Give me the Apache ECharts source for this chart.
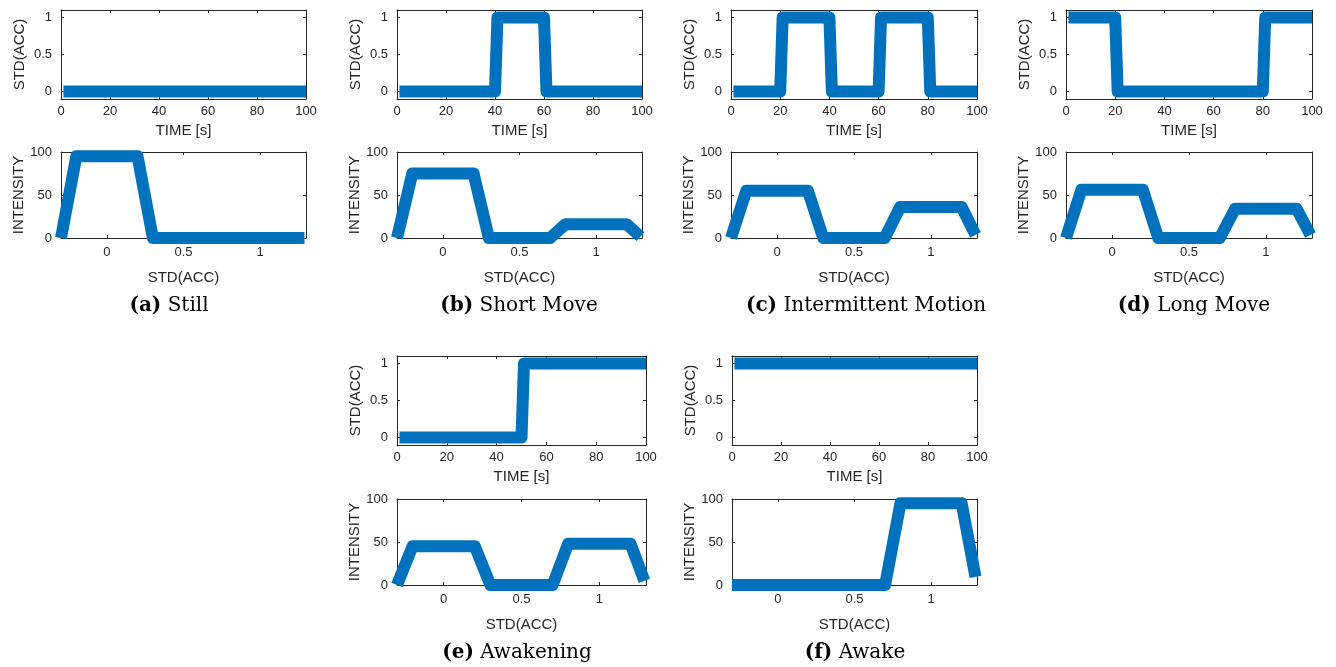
<!DOCTYPE html>
<html>
<head>
<meta charset="utf-8">
<script src="https://cdn.jsdelivr.net/npm/echarts@6/dist/echarts.min.js"></script>
<style>
  html, body { margin: 0; padding: 0; background: #fff; }
  #chart { width: 1336px; height: 667px; }
</style>
</head>
<body>
<div id="chart"></div>
<script>
// top plots: STD(ACC) over time, [time s, value] vertices
const stdStill = [[1, 0], [100, 0]]
const stdShort = [[1, 0], [40, 0], [41, 1], [60, 1], [61, 0], [100, 0]]
const stdInterm = [[1, 0], [20, 0], [21, 1], [40, 1], [41, 0], [60, 0], [61, 1], [80, 1], [81, 0], [100, 0]]
const stdLong = [[1, 1], [20, 1], [21, 0], [80, 0], [81, 1], [100, 1]]
const stdAwakening = [[1, 0], [50, 0], [51, 1], [100, 1]]
const stdAwake = [[1, 1], [100, 1]]

// bottom plots: INTENSITY over STD(ACC)
const intensityX = [-0.3, -0.2, 0.2, 0.3, 0.7, 0.8, 1.2, 1.29]
const intStill = [0, 95, 95, 0, 0, 0, 0, 0]
const intShort = [0, 75, 75, 0, 0, 16, 16, 1.6]
const intInterm = [0, 55, 55, 0, 0, 36, 36, 3.6]
const intLong = [0, 56, 56, 0, 0, 34, 34, 3.4]
const intAwakening = [0, 45, 45, 0, 0, 48, 48, 4.8]
const intAwake = [0, 0, 0, 0, 0, 95, 95, 9.5]

const timeTicks = [0, 20, 40, 60, 80, 100]
const stdTicks = [0, 0.5, 1]
const intensityTicks = [0, 50, 100]

const captionTags = ['(a)', '(b)', '(c)', '(d)', '(e)', '(f)']
const captionNames = ['Still', 'Short Move', 'Intermittent Motion', 'Long Move', 'Awakening', 'Awake']

const panels = [
  { left: 61, width: 245, row: 0, capX: 169, std: stdStill, int: intStill },
  { left: 397, width: 245, row: 0, capX: 519, std: stdShort, int: intShort },
  { left: 731, width: 246, row: 0, capX: 866, std: stdInterm, int: intInterm },
  { left: 1066, width: 246, row: 0, capX: 1194, std: stdLong, int: intLong },
  { left: 397, width: 249, row: 1, capX: 517, std: stdAwakening, int: intAwakening },
  { left: 732, width: 245, row: 1, capX: 855, std: stdAwake, int: intAwake }
]
const rows = [
  { stdTop: 10, intTop: 152, capTop: 296 },
  { stdTop: 356, intTop: 499, capTop: 643 }
]

const axisColor = '#262626'
const lineColor = '#0072BD'
const tickFont = { fontFamily: 'Liberation Sans', fontSize: 13, color: axisColor }
const nameFont = { fontFamily: 'Liberation Sans', fontSize: 15, color: axisColor }

const chart = echarts.init(document.getElementById('chart'), null, { renderer: 'canvas' })

const grid = []
const xAxis = []
const yAxis = []
const series = []
const title = []

function addAxes(gi, xCfg, yCfg) {
  const line = { show: true, onZero: false, lineStyle: { color: axisColor, width: 1 } }
  const tick = (vals) => ({ show: true, inside: true, length: 3, lineStyle: { color: axisColor }, customValues: vals })
  const xi = xAxis.length
  xAxis.push({
    type: 'value', gridIndex: gi, position: 'bottom', min: xCfg.min, max: xCfg.max,
    axisLine: line, axisTick: tick(xCfg.ticks), splitLine: { show: false },
    axisLabel: Object.assign({ margin: xCfg.margin, customValues: xCfg.ticks, formatter: (v) => String(v) }, tickFont),
    name: xCfg.name, nameLocation: 'middle', nameGap: xCfg.nameGap, nameTextStyle: nameFont
  })
  xAxis.push({
    type: 'value', gridIndex: gi, position: 'top', min: xCfg.min, max: xCfg.max,
    axisLine: line, axisTick: tick(xCfg.ticks), axisLabel: { show: false }, splitLine: { show: false }
  })
  const yi = yAxis.length
  yAxis.push({
    type: 'value', gridIndex: gi, position: 'left', min: yCfg.min, max: yCfg.max,
    axisLine: line, axisTick: tick(yCfg.ticks), splitLine: { show: false },
    axisLabel: Object.assign({ margin: 9, customValues: yCfg.ticks, formatter: (v) => String(v) }, tickFont),
    name: yCfg.name, nameLocation: 'middle', nameGap: yCfg.nameGap, nameTextStyle: nameFont
  })
  yAxis.push({
    type: 'value', gridIndex: gi, position: 'right', min: yCfg.min, max: yCfg.max,
    axisLine: line, axisTick: tick(yCfg.ticks), axisLabel: { show: false }, splitLine: { show: false }
  })
  return { xi, yi }
}

function addLine(idx, data) {
  series.push({
    type: 'line', xAxisIndex: idx.xi, yAxisIndex: idx.yi, data: data,
    symbol: 'none', clip: false, silent: true,
    lineStyle: { color: lineColor, width: 12, join: 'round', cap: 'butt' }
  })
}

panels.forEach((p, i) => {
  const r = rows[p.row]
  // time plot
  grid.push({ left: p.left, top: r.stdTop, width: p.width, height: 89 })
  const a = addAxes(grid.length - 1,
    { min: 0, max: 100, ticks: timeTicks, margin: 6, name: 'TIME [s]', nameGap: 24 },
    { min: -0.1, max: 1.1, ticks: stdTicks, name: 'STD(ACC)', nameGap: 34 })
  addLine(a, p.std)
  // intensity plot
  grid.push({ left: p.left, top: r.intTop, width: p.width, height: 86 })
  const b = addAxes(grid.length - 1,
    { min: -0.3, max: 1.3, ticks: stdTicks, margin: 8, name: 'STD(ACC)', nameGap: 32 },
    { min: 0, max: 100, ticks: intensityTicks, name: 'INTENSITY', nameGap: 34 })
  addLine(b, intensityX.map((x, k) => [x, p.int[k]]))
  // caption
  title.push({
    text: '{b|' + captionTags[i] + '} ' + captionNames[i],
    left: p.capX, top: r.capTop, textAlign: 'center', padding: 0,
    textStyle: {
      fontFamily: 'DejaVu Serif', fontSize: 20, fontWeight: 'normal', color: '#000',
      rich: { b: { fontFamily: 'DejaVu Serif', fontSize: 20, fontWeight: 'bold', color: '#000' } }
    }
  })
})

chart.setOption({
  animation: false,
  backgroundColor: '#fff',
  title: title,
  grid: grid,
  xAxis: xAxis,
  yAxis: yAxis,
  series: series
})
</script>
</body>
</html>
